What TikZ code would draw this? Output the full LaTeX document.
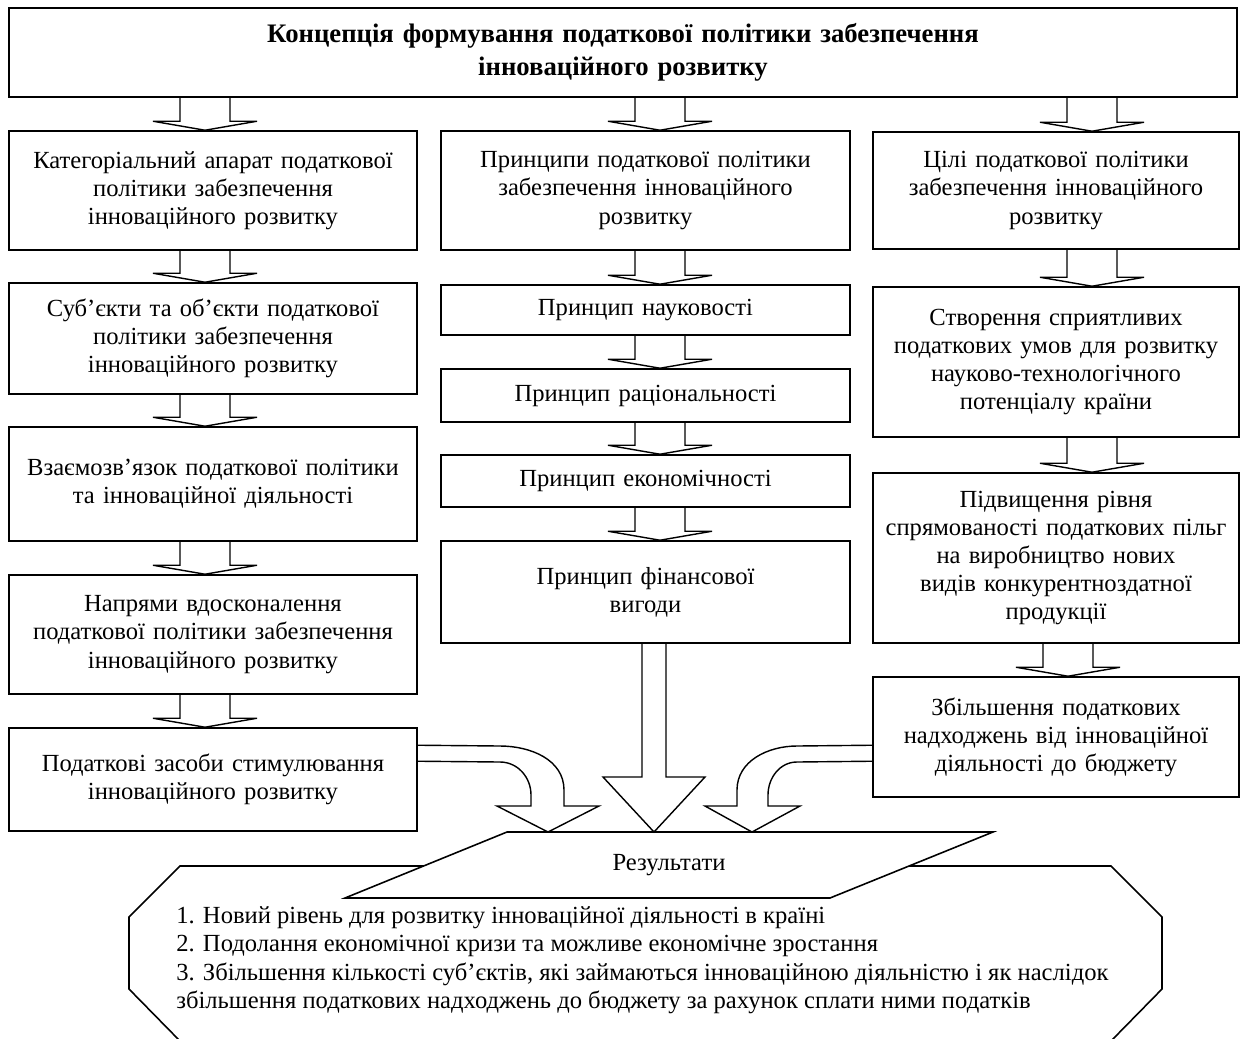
\documentclass[tikz,border=0pt]{standalone}
\usepackage{fontspec}
\setmainfont{Liberation Serif}
\usepackage{tikz}
\usetikzlibrary{calc}
\tikzset{
  taxbox/.style={rectangle, draw, line width=0.9pt, inner xsep=0pt, align=center, font=\fontsize{14}{16}\selectfont},
  blockline/.style={draw, line width=0.8pt, line join=miter}
}
\newcommand{\taxnode}[5] {\node at (#1) (#2) [taxbox, text width=#3cm, minimum height=#4cm] {#5};}
\newcommand{\blockdown}[3] {\draw [blockline] ($(#1.south -| #3)+(-25,0)$) -- ($(#2.north -| #3)+(-25,-9)$) -- ($(#2.north -| #3)+(-52,-9)$) -- (#2.north -| #3) -- ($(#2.north -| #3)+(52,-9)$) -- ($(#2.north -| #3)+(25,-9)$) -- ($(#1.south -| #3)+(25,0)$);}

\begin{document}
\begin{tikzpicture}[x=0.02cm, y=-0.02cm]
\useasboundingbox (0,0) rectangle (1247,1038);
\fill [white] (0,0) rectangle (1247,1038);
\clip (0,0) rectangle (1247,1038);
\coordinate (lx) at (205,0);
\coordinate (mx) at (660,0);
\coordinate (rx) at (1092,0);
\coordinate (rxb) at (1068,0);
\coordinate (bx) at (654,0);
\coordinate (ltip) at (548,832);
\coordinate (rtip) at (752,832);
\coordinate (restop) at (654,832);
\node at (623,52.5) (concept) [taxbox, text width=24.56cm, minimum height=1.78cm, font=\bfseries\fontsize{15.2}{19}\selectfont] {Концепція формування податкової політики забезпечення\\інноваційного розвитку};
\taxnode{213,190.5}{cat}{8.16}{2.38}{Категоріальний апарат податкової\\політики забезпечення\\інноваційного розвитку}
\taxnode{213,338.5}{subj}{8.16}{2.22}{Суб’єкти та об’єкти податкової\\політики забезпечення\\інноваційного розвитку}
\taxnode{213,484}{rel}{8.16}{2.28}{Взаємозв’язок податкової політики\\та інноваційної діяльності}
\taxnode{213,634.5}{dir}{8.16}{2.38}{Напрями вдосконалення\\податкової політики забезпечення\\інноваційного розвитку}
\taxnode{213,779.5}{tools}{8.16}{2.06}{Податкові засоби стимулювання\\інноваційного розвитку}
\taxnode{645.5,190.5}{princ}{8.18}{2.38}{Принципи податкової політики\\забезпечення інноваційного\\розвитку}
\taxnode{645.5,310}{sci}{8.18}{1.0}{Принцип науковості}
\taxnode{645.5,395.5}{rat}{8.18}{1.06}{Принцип раціональності}
\taxnode{645.5,481}{eco}{8.18}{1.04}{Принцип економічності}
\taxnode{645.5,592}{fin}{8.18}{2.04}{Принцип фінансової\\вигоди}
\taxnode{1056,190.5}{goal}{7.32}{2.34}{Цілі податкової політики\\забезпечення інноваційного\\розвитку}
\taxnode{1056,362}{fav}{7.32}{3.0}{Створення сприятливих\\податкових умов для розвитку\\науково-технологічного\\потенціалу країни}
\taxnode{1056,558}{ben}{7.32}{3.4}{Підвищення рівня\\спрямованості податкових пільг\\на виробництво нових\\видів конкурентноздатної\\продукції}
\taxnode{1056,737}{rev}{7.32}{2.4}{Збільшення податкових\\надходжень від інноваційної\\діяльності до бюджету}
\draw [line width=0.9pt] (180,866) -- (1111,866) -- (1162,917) -- (1162,989) -- (1111,1041) -- (180,1041) -- (129,989) -- (129,917) -- cycle;
\draw [line width=0.9pt, fill=white] (507,832) -- (993,832) -- (830,898) -- (345,898) -- cycle;
\node at (669,865) (res) [font=\fontsize{14}{16}\selectfont] {Результати};
\node at (176,960) (outcomes) [anchor=west, align=left, inner sep=0pt, font=\fontsize{14}{16.2}\selectfont] {1. Новий рівень для розвитку інноваційної діяльності в країні\\2. Подолання економічної кризи та можливе економічне зростання\\3. Збільшення кількості суб’єктів, які займаються інноваційною діяльністю і як наслідок\\збільшення податкових надходжень до бюджету за рахунок сплати ними податків};
\blockdown{concept}{cat}{lx}
\blockdown{concept}{princ}{mx}
\blockdown{concept}{goal}{rx}
\blockdown{cat}{subj}{lx}
\blockdown{subj}{rel}{lx}
\blockdown{rel}{dir}{lx}
\blockdown{dir}{tools}{lx}
\blockdown{princ}{sci}{mx}
\blockdown{sci}{rat}{mx}
\blockdown{rat}{eco}{mx}
\blockdown{eco}{fin}{mx}
\blockdown{goal}{fav}{rx}
\blockdown{fav}{ben}{rx}
\blockdown{ben}{rev}{rxb}
\draw [blockline] ($(fin.south -| bx)+(-12,0)$) -- ($(restop)+(-12,-55)$) -- ($(restop)+(-51,-55)$) -- (restop) -- ($(restop)+(51,-55)$) -- ($(restop)+(12,-55)$) -- ($(fin.south -| bx)+(12,0)$);
\draw [blockline] ($(tools.north east)+(0,18)$) -- ($(ltip)+(-48,-86)$) to[out=0, in=90] ($(ltip)+(16,-42)$) -- ($(ltip)+(16,-26)$) -- ($(ltip)+(51,-26)$) -- (ltip) -- ($(ltip)+(-51,-26)$) -- ($(ltip)+(-17,-26)$) -- ($(ltip)+(-17,-37)$) to[out=90, in=0] ($(ltip)+(-48,-70)$) -- ($(tools.north east)+(0,34)$);
\draw [blockline] ($(rev.north west)+(0,69)$) -- ($(rtip)+(45,-86)$) to[out=180, in=90] ($(rtip)+(-15,-42)$) -- ($(rtip)+(-15,-26)$) -- ($(rtip)+(-47,-26)$) -- (rtip) -- ($(rtip)+(48,-26)$) -- ($(rtip)+(16,-26)$) -- ($(rtip)+(16,-37)$) to[out=90, in=180] ($(rtip)+(45,-70)$) -- ($(rev.north west)+(0,85)$);
\end{tikzpicture}
\end{document}
